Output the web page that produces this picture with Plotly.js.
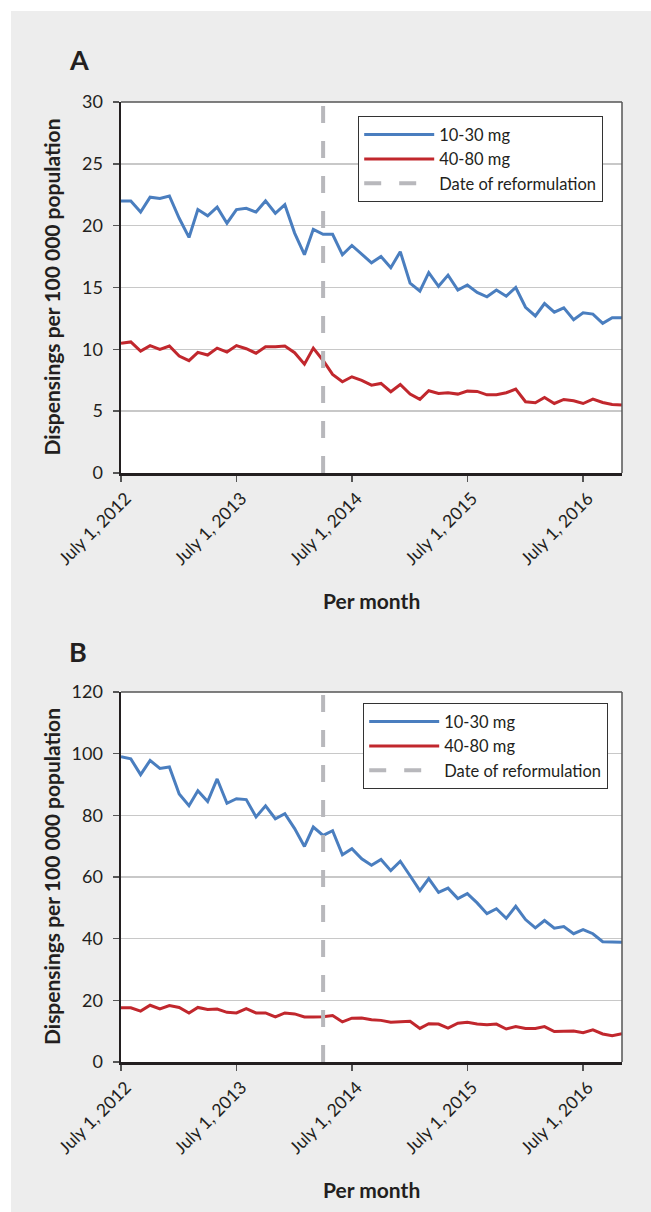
<!DOCTYPE html>
<html>
<head>
<meta charset="utf-8">
<script src="https://cdn.plot.ly/plotly-3.0.1.min.js"></script>
<style>
  html, body { margin: 0; padding: 0; background: #ffffff; }
  #chart { position: absolute; left: 11px; top: 11px; width: 640px; height: 1201px; }
</style>
</head>
<body>
<div id="chart"></div>
<script>
// Months (one dispensing value per month)
const months = [
  "2012-07-01","2012-08-01","2012-09-01","2012-10-01","2012-11-01","2012-12-01",
  "2013-01-01","2013-02-01","2013-03-01","2013-04-01","2013-05-01","2013-06-01",
  "2013-07-01","2013-08-01","2013-09-01","2013-10-01","2013-11-01","2013-12-01",
  "2014-01-01","2014-02-01","2014-03-01","2014-04-01","2014-05-01","2014-06-01",
  "2014-07-01","2014-08-01","2014-09-01","2014-10-01","2014-11-01","2014-12-01",
  "2015-01-01","2015-02-01","2015-03-01","2015-04-01","2015-05-01","2015-06-01",
  "2015-07-01","2015-08-01","2015-09-01","2015-10-01","2015-11-01","2015-12-01",
  "2016-01-01","2016-02-01","2016-03-01","2016-04-01","2016-05-01","2016-06-01",
  "2016-07-01","2016-08-01","2016-09-01","2016-10-01","2016-11-01"
];

// Panel A
const lowDoseA = [22.0,22.0,21.1,22.3,22.2,22.4,20.6,19.05,21.3,20.8,21.5,20.2,
  21.3,21.4,21.1,22.0,21.0,21.7,19.4,17.65,19.7,19.3,19.3,17.65,
  18.4,17.7,17.0,17.5,16.6,17.9,15.35,14.7,16.2,15.1,16.0,14.8,
  15.2,14.6,14.25,14.8,14.3,15.0,13.4,12.7,13.7,13.0,13.35,12.4,
  12.95,12.85,12.1,12.55,12.55];
const highDoseA = [10.5,10.6,9.86,10.3,10.0,10.27,9.46,9.08,9.76,9.54,10.1,9.78,
  10.3,10.05,9.68,10.2,10.2,10.27,9.73,8.8,10.1,9.1,7.97,7.38,
  7.78,7.49,7.1,7.24,6.57,7.16,6.38,5.95,6.65,6.43,6.49,6.38,
  6.62,6.6,6.32,6.32,6.49,6.78,5.76,5.68,6.1,5.62,5.95,5.84,
  5.62,5.97,5.7,5.54,5.49];

// Panel B
const lowDoseB = [99.0,98.3,93.2,97.8,95.2,95.7,86.9,83.1,88.0,84.5,91.8,83.9,
  85.4,85.1,79.5,83.1,78.9,80.5,75.7,69.9,76.2,73.5,75.0,67.2,
  69.2,65.9,63.8,65.7,62.05,65.1,60.4,55.6,59.5,55.0,56.4,53.0,
  54.6,51.6,48.1,49.7,46.6,50.5,46.2,43.5,45.9,43.4,43.9,41.6,
  42.9,41.6,39.0,38.8,38.8];
const highDoseB = [17.6,17.6,16.5,18.4,17.2,18.3,17.7,15.9,17.7,17.0,17.2,16.1,
  15.9,17.3,15.9,15.9,14.6,15.9,15.6,14.6,14.6,14.7,15.1,13.0,
  14.2,14.3,13.7,13.5,12.9,13.1,13.2,10.9,12.4,12.3,11.0,12.6,
  12.9,12.3,12.1,12.3,10.7,11.5,10.9,10.9,11.5,9.9,10.05,10.05,
  9.5,10.4,9.1,8.5,9.2];

const reformulationDate = "2014-04-01";
const reformulationSpanA = [0, 30];
const reformulationSpanB = [0, 120];

const seriesNames = ["10-30 mg", "40-80 mg", "Date of reformulation"];
const tickDates = ["2012-07-01","2013-07-01","2014-07-01","2015-07-01","2016-07-01"];
const tickLabels = ["July 1, 2012","July 1, 2013","July 1, 2014","July 1, 2015","July 1, 2016"];
const yTicksA = [0,5,10,15,20,25,30];
const yTicksB = [0,20,40,60,80,100,120];
const panelLabels = ["A", "B"];
const xTitle = "Per month";
const yTitle = "Dispensings per 100 000 population";

const BLUE = "#4a7ebf";
const RED = "#c1272d";
const GREY = "#b8b8bc";
const FONT = "Lato, sans-serif";
const INK = "#231f20";

function traceSet(low, high, span, xa, ya, leg) {
  return [
    {x: months, y: low, name: seriesNames[0], type: "scatter", mode: "lines",
     line: {color: BLUE, width: 3}, xaxis: xa, yaxis: ya, legend: leg},
    {x: months, y: high, name: seriesNames[1], type: "scatter", mode: "lines",
     line: {color: RED, width: 3}, xaxis: xa, yaxis: ya, legend: leg},
    {x: [reformulationDate, reformulationDate], y: span, name: seriesNames[2],
     type: "scatter", mode: "lines",
     line: {color: GREY, width: 4, dash: "17px,18px"}, xaxis: xa, yaxis: ya, legend: leg}
  ];
}

const data = traceSet(lowDoseA, highDoseA, reformulationSpanA, "x", "y", "legend")
  .concat(traceSet(lowDoseB, highDoseB, reformulationSpanB, "x2", "y2", "legend2"));

const H = 1201, W = 640, ML = 110, MR = 29;
// page pixel -> paper fraction (paper spans the plot area horizontally)
function py(pageY) { return 1 - (pageY - 11) / H; }
function px(pageX) { return (pageX - 11 - ML) / (W - ML - MR); }

function xAxis(anchor) {
  return {
    type: "date", anchor: anchor,
    range: [months[0], months[months.length - 1]],
    tickvals: tickDates, ticktext: tickLabels, tickangle: -45,
    ticks: "outside", ticklen: 6, tickwidth: 1.5, tickcolor: "#555",
    ticklabelshift: 5,
    showgrid: false, zeroline: false,
    showline: true, linecolor: INK, linewidth: 2.5,
    tickfont: {family: FONT, size: 17.5, color: INK}
  };
}
function yAxis(anchor, ticks, range, dom) {
  return {
    anchor: anchor, domain: dom, range: range, tickvals: ticks,
    ticks: "outside", ticklen: 6, tickwidth: 1.5, tickcolor: "#555",
    showgrid: true, gridcolor: "#c8c8c8", gridwidth: 1.5, zeroline: false,
    showline: true, linecolor: INK, linewidth: 2.5,
    ticklabelstandoff: 6,
    tickfont: {family: FONT, size: 18, color: INK}
  };
}

const legendBase = {
  xanchor: "left", yanchor: "top", bgcolor: "#ffffff",
  bordercolor: "#333333", borderwidth: 1.2, itemwidth: 70,
  font: {family: FONT, size: 16.5, color: INK}, tracegroupgap: 0
};

function label(text, x, y, size, angle) {
  return {text: "<b>" + text + "</b>", xref: "paper", yref: "paper",
          x: px(x), y: py(y), xanchor: "center", yanchor: "middle",
          showarrow: false, textangle: angle || 0,
          font: {family: FONT, size: size, color: INK}};
}

const layout = {
  width: W, height: H,
  margin: {l: ML, r: MR, t: 0, b: 0},
  paper_bgcolor: "#ededed", plot_bgcolor: "#ffffff",
  font: {family: FONT, color: INK},
  showlegend: true,
  xaxis: xAxis("y"),
  yaxis: yAxis("x", yTicksA, [0, 30], [py(473), py(102)]),
  xaxis2: xAxis("y2"),
  yaxis2: yAxis("x2", yTicksB, [0, 120], [py(1062), py(692)]),
  legend: Object.assign({}, legendBase, {x: px(358), y: py(116)}),
  legend2: Object.assign({}, legendBase, {x: px(363), y: py(703)}),
  shapes: [
    {type: "line", xref: "x domain", yref: "y domain", x0: 0, x1: 1, y0: 1, y1: 1, line: {color: "#555", width: 1.5}},
    {type: "line", xref: "x domain", yref: "y domain", x0: 1, x1: 1, y0: 0, y1: 1, line: {color: "#555", width: 1.5}},
    {type: "line", xref: "x2 domain", yref: "y2 domain", x0: 0, x1: 1, y0: 1, y1: 1, line: {color: "#555", width: 1.5}},
    {type: "line", xref: "x2 domain", yref: "y2 domain", x0: 1, x1: 1, y0: 0, y1: 1, line: {color: "#555", width: 1.5}}
  ],
  annotations: [
    label(panelLabels[0], 78.5, 59, 27),
    label(panelLabels[1], 78, 651, 27),
    label(xTitle, 371.5, 600, 21),
    label(xTitle, 371.5, 1189, 21),
    label(yTitle, 51, 287.5, 21, -90),
    label(yTitle, 51, 877, 21, -90)
  ]
};

Plotly.newPlot("chart", data, layout, {displayModeBar: false, staticPlot: true});
</script>
</body>
</html>
